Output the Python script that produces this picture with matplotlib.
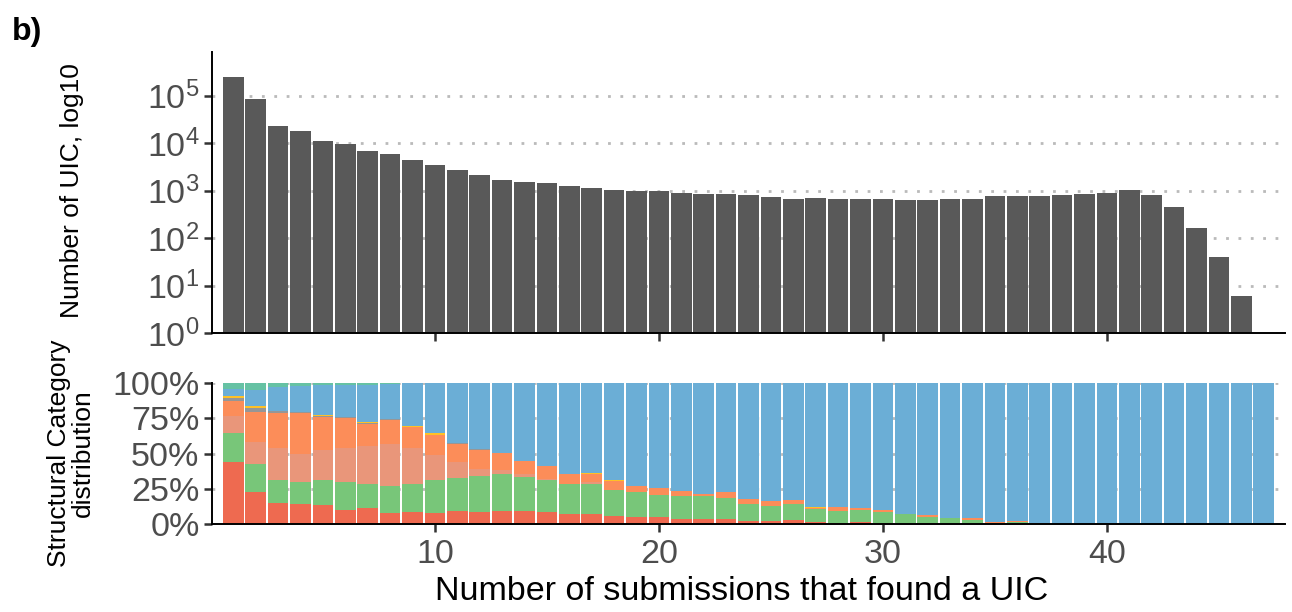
import numpy as np
import matplotlib
matplotlib.use("Agg")
import matplotlib.pyplot as plt
from matplotlib.ticker import FixedLocator, FuncFormatter, NullLocator, LogFormatterSciNotation

plt.rcParams["font.family"] = ["Liberation Sans", "DejaVu Sans"]
plt.rcParams["mathtext.default"] = "regular"

# Number of submissions that found a UIC (1..47)
submissions = list(range(1, 48))

# Number of UIC per submission count
uic_counts = [
    250000, 86000, 23000, 18000, 11200, 9700, 6900, 6000, 4500, 3500,
    2760, 2170, 1700, 1550, 1470, 1270, 1160, 1050, 1000, 1000,
    910, 865, 865, 825, 750, 680, 710, 650, 650, 650,
    620, 620, 650, 680, 785, 785, 785, 825, 865, 910,
    1050, 825, 460, 160, 39, 6, 1,
]

# Structural category shares (%) per submission count
nnc = [44.0, 22.4, 15.2, 14.3, 13.8, 10.0, 11.0, 8.1, 8.8, 8.1,
       9.5, 8.8, 9.5, 9.5, 8.8, 7.4, 7.4, 6.0, 5.2, 5.2,
       3.8, 3.8, 3.8, 2.4, 2.4, 3.1, 1.7, 1.0, 1.7, 1.0,
       0.2, 1.0, 0, 0, 0, 0, 0.2, 0, 0.2, 0,
       0, 0, 0, 0, 0, 0, 0]
nic = [20.3, 20.5, 15.7, 15.7, 17.1, 20.0, 17.1, 19.0, 19.8, 22.9,
       23.3, 25.0, 25.7, 23.6, 22.6, 21.2, 20.7, 18.1, 17.4, 15.2,
       16.0, 16.0, 14.5, 11.7, 10.7, 11.0, 8.6, 7.9, 8.1, 7.4,
       6.7, 4.3, 4.0, 3.1, 1.0, 1.4, 0, 0.2, 0, 0,
       0, 0, 0, 0, 0, 0, 0]
intergenic = [12.6, 15.5, 22.6, 20.0, 21.4, 23.6, 27.1, 29.5, 25.0, 17.9,
              11.4, 5.0, 2.9, 2.4, 0.7, 0, 1.7, 0, 0, 0,
              0, 0, 0, 0, 0, 0, 0, 0, 0, 0,
              0, 0, 0, 0, 0, 0, 0, 0, 0, 0,
              0, 0, 0, 0, 0, 0, 0]
ism = [10.0, 21.2, 25.0, 28.6, 23.6, 21.7, 16.0, 17.1, 15.2, 14.3,
       12.4, 13.6, 12.1, 9.0, 8.8, 6.7, 5.7, 6.2, 4.3, 5.0,
       3.3, 1.4, 4.3, 3.3, 2.9, 2.9, 1.4, 2.9, 1.9, 1.4,
       0.5, 1.4, 0.5, 1.0, 0.7, 1.0, 0.7, 0, 0, 0,
       0, 0, 0, 0, 0, 0, 0]
genic = [2.6, 2.9, 1.4, 0.7, 0.7, 0.5, 0.5, 0.5, 0, 0,
         0.5, 0.5, 0, 0, 0, 0, 0, 0, 0, 0,
         0, 0, 0, 0, 0, 0, 0, 0, 0, 0,
         0, 0, 0, 0, 0, 0, 0, 0, 0, 0,
         0, 0, 0, 0, 0, 0, 0]
fusion = [1.5, 1.4, 0, 0, 0.7, 0, 0.7, 0, 0.7, 1.0,
          0, 0, 0, 0, 0.5, 0, 0.5, 0.7, 0, 0,
          0, 0, 0, 0, 0, 0, 0.7, 0, 0, 0,
          0, 0, 0, 0, 0, 0, 0, 0, 0, 0,
          0, 0, 0, 0, 0, 0, 0]
fsm = [4.7, 11.4, 17.4, 18.8, 21.4, 23.1, 26.4, 25.2, 30.3, 35.8,
       42.9, 47.1, 49.8, 55.5, 58.6, 64.7, 64.0, 69.0, 73.1, 74.6,
       76.9, 78.8, 77.4, 82.6, 84.0, 83.0, 87.6, 88.2, 88.3, 90.2,
       92.6, 93.3, 95.5, 95.9, 98.3, 97.6, 99.1, 99.8, 99.8, 100,
       100, 100, 100, 100, 100, 100, 100]
antisense = [4.3, 4.8, 2.6, 1.9, 1.2, 1.2, 1.2, 0.5, 0.2, 0,
             0, 0, 0, 0, 0, 0, 0, 0, 0, 0,
             0, 0, 0, 0, 0, 0, 0, 0, 0, 0,
             0, 0, 0, 0, 0, 0, 0, 0, 0, 0,
             0, 0, 0, 0, 0, 0, 0]

# stacking order from the bottom up, with the category colours
stack = [
    (nnc, "#EE6A50"),
    (nic, "#78C679"),
    (intergenic, "#E9967A"),
    (ism, "#FC8D59"),
    (genic, "#969696"),
    (fusion, "#FFC125"),
    (fsm, "#6BAED6"),
    (antisense, "#66C2A4"),
]

x_ticks = [10, 20, 30, 40]
log_ticks = [1, 10, 100, 1000, 10000, 100000]
pct_ticks = [0, 0.25, 0.5, 0.75, 1.0]

W, H = 1292, 612
fig = plt.figure(figsize=(W / 100, H / 100), dpi=100)


def fig_rect(left, top, right, bottom):
    return [left / W, 1 - bottom / H, (right - left) / W, (bottom - top) / H]


ax_top = fig.add_axes(fig_rect(212, 52, 1285, 333))
ax_bot = fig.add_axes(fig_rect(212, 383, 1285, 524))

tick_col = "#4D4D4D"
grid_kw = dict(color="#BABABA", linewidth=2.0, linestyle=(0, (1, 3.45)))
bar_w = 0.92
xlim = (0.05, 47.95)

for ax in (ax_top, ax_bot):
    for side in ("top", "right"):
        ax.spines[side].set_visible(False)
    for side in ("left", "bottom"):
        ax.spines[side].set_linewidth(1.4)
        ax.spines[side].set_color("black")
    ax.set_axisbelow(True)
    ax.tick_params(axis="both", length=6, width=1.8, color="#333333",
                   labelsize=24.5, labelcolor=tick_col, pad=3)
    ax.set_xlim(*xlim)
    ax.xaxis.set_major_locator(FixedLocator(x_ticks))
    ax.xaxis.set_minor_locator(NullLocator())

# top panel: counts on a log axis
x = np.array(submissions)
ax_top.bar(x, uic_counts, width=bar_w, color="#595959", linewidth=0, zorder=2)
ax_top.set_yscale("log")
ax_top.set_ylim(1, 10 ** 5.92)
ax_top.yaxis.set_major_locator(FixedLocator(log_ticks))
ax_top.yaxis.set_minor_locator(NullLocator())
ax_top.yaxis.set_major_formatter(LogFormatterSciNotation())
ax_top.tick_params(axis="x", labelbottom=False)
for v in log_ticks:
    ax_top.axhline(v, zorder=0, **grid_kw)

# bottom panel: stacked category shares
totals = np.sum([np.array(v, dtype=float) for v, _ in stack], axis=0)
base = np.zeros(len(submissions))
for vals, col in stack:
    frac = np.array(vals, dtype=float) / totals
    ax_bot.bar(x, frac, bottom=base, width=bar_w, color=col, linewidth=0, zorder=2)
    base += frac
ax_bot.set_ylim(0, 1)
ax_bot.yaxis.set_major_locator(FixedLocator(pct_ticks))
ax_bot.yaxis.set_major_formatter(FuncFormatter(lambda v, p: f"{int(round(v * 100))}%"))
ax_bot.tick_params(axis="x", pad=5)
for v in pct_ticks:
    ax_bot.axhline(v, zorder=0, **grid_kw)

# titles and labels
fig.text(742 / W, 1 - 592 / H, "Number of submissions that found a UIC",
         ha="center", va="center", fontsize=24.5, color="black")
fig.text(72 / W, 1 - 191 / H, "Number of UIC, log10", rotation=90,
         ha="center", va="center", fontsize=19, color="black")
fig.text(71 / W, 1 - 453 / H, "Structural Category\ndistribution", rotation=90,
         ha="center", va="center", fontsize=19, color="black", linespacing=0.95,
         multialignment="center")
fig.text(12 / W, 1 - 40 / H, "b)", ha="left", va="baseline",
         fontsize=23, fontweight="bold", color="black")

fig.savefig("out.png", dpi=100)
